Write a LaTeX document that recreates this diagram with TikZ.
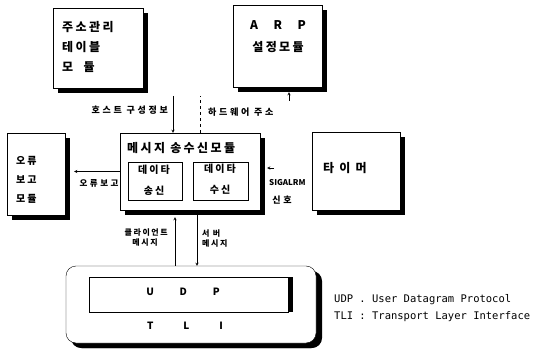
\documentclass[tikz,border=0pt]{standalone}
\usepackage{fontspec}
\setmainfont{Noto Sans CJK KR}[LetterSpace=20]
\newfontfamily\lblfont{Noto Sans CJK KR}[LetterSpace=30]
\newfontfamily\plainfont{Noto Sans CJK KR}
\newfontfamily\legendfont{DejaVu Sans Mono}
\usetikzlibrary{shadows}
\begin{document}
\begin{tikzpicture}[>=stealth, x=1pt, y=-1pt, thin,
  modbox/.style={draw, fill=white, inner sep=0pt,
    drop shadow={shadow xshift=5pt, shadow yshift=-5pt, fill=black, opacity=1}},
  subbox/.style={draw, fill=white, inner sep=0pt},
  boxtext/.style={font=\bfseries\fontsize{12}{20}\selectfont, inner sep=0pt},
  subtext/.style={font=\bfseries\fontsize{10}{12}\selectfont, inner sep=0pt},
  lbl/.style={font=\lblfont\bfseries\fontsize{9}{10}\selectfont, inner sep=0pt},
  small/.style={font=\bfseries\fontsize{8}{9}\selectfont, inner sep=0pt}]
\useasboundingbox (0,0) rectangle (534,352);

% modules
\node [modbox, minimum width=90pt, minimum height=80pt] (addr) at (98,48) {};
\node [boxtext, anchor=north west, align=left] (addrtxt) at (62,21) {주소관리\\테이블\\모\ \ 듈};
\node [modbox, minimum width=89pt, minimum height=82pt] (arp) at (277.5,46) {};
\node [boxtext] (arptxt) at (278,25) {A\ \ \ R\ \ \ P};
\node [boxtext] (arptxt2) at (278,47) {설정모듈};

\node [modbox, minimum width=58pt, minimum height=82pt] (err) at (36,174) {};
\node [subtext, anchor=north west, align=left, font=\bfseries\fontsize{10}{19}\selectfont] (errtxt) at (16,156) {오류\\보고\\모듈};

\node [modbox, minimum width=140pt, minimum height=77pt] (main) at (190,171.5) {};
\node [boxtext, anchor=west] (maintxt) at (127,148) {메시지 송수신모듈};
\node [subbox, minimum width=54pt, minimum height=38pt] (send) at (155,181) {};
\node [subtext] at (154,170) {데이타};
\node [subtext] at (154,191) {송신};
\node [subbox, minimum width=55pt, minimum height=38pt] (recv) at (220.5,181) {};
\node [subtext] at (220,169) {데이타};
\node [subtext] at (220,190) {수신};

\node [modbox, minimum width=88pt, minimum height=78pt] (timer) at (356,171) {};
\node [boxtext, anchor=west] (timertxt) at (323,168) {타\ 이\ 머};

\node [modbox, rounded corners=10pt, minimum width=250pt, minimum height=77pt,
  drop shadow={shadow xshift=6pt, shadow yshift=-5pt, fill=black, opacity=1}] (tli) at (191,304.5) {};
\node [subbox, minimum width=199pt, minimum height=35pt,
  drop shadow={shadow xshift=5pt, shadow yshift=0pt, fill=black, opacity=1}] (udp) at (188.5,294.5) {};
\node [subtext] (udptxt) at (183,292) {U\ \ \ \ \ \ D\ \ \ \ \ \ P};
\node [subtext] (tlitxt) at (185,326) {T\ \ \ \ \ \ \ L\ \ \ \ \ \ \ I};

% connectors
\coordinate (hostin) at (173,96);
\draw [->] (hostin) -- (main.north -| hostin);
\node [lbl, anchor=east] (hostlbl) at (168,110) {호스트 구성정보};

\coordinate (hwout) at (200,96);
\draw [dashed] (main.north -| hwout) -- (hwout);
\coordinate (hwin) at (289,101);
\draw [->] (hwin) -- ([yshift=-5pt]arp.south -| hwin);
\node [lbl, anchor=west] (hwlbl) at (208,112) {하드웨어 주소};

\draw [->, shorten >=9pt] (main.west) -- (main.west -| err.east);
\node [lbl, font=\lblfont\bfseries\fontsize{8.5}{10}\selectfont] (errlbl) at (99,183) {오류보고};

\coordinate (sigin) at (274,168);
\draw [->, shorten >=7pt] (sigin) -- (sigin -| main.east);
\node [small, font=\plainfont\bfseries\fontsize{8}{9}\selectfont, anchor=west] (siglbl) at (269,183) {SIGALRM};
\node [lbl] (siglbl2) at (282,200) {신호};

\coordinate (clx) at (175,0);
\draw [->] (tli.north -| clx) -- ([yshift=-7pt]main.south -| clx);
\node [small, anchor=east] (cllbl) at (168,233) {클라이언트};
\node [small] (cllbl2) at (145,243) {메시지};

\coordinate (svx) at (197,0);
\draw [->] ([yshift=-5pt]main.south -| svx) -- (tli.north -| svx);
\node [small, anchor=west] (svlbl) at (202,234) {서\ 버};
\node [small, anchor=west] (svlbl2) at (202,244) {메시지};

% legend
\node [font=\legendfont\fontsize{10.5}{12}\selectfont, anchor=west, inner sep=0pt] (leg1) at (334,300) {UDP . User Datagram Protocol};
\node [font=\legendfont\fontsize{10.5}{12}\selectfont, anchor=west, inner sep=0pt] (leg2) at (334,317) {TLI : Transport Layer Interface};
\end{tikzpicture}
\end{document}
